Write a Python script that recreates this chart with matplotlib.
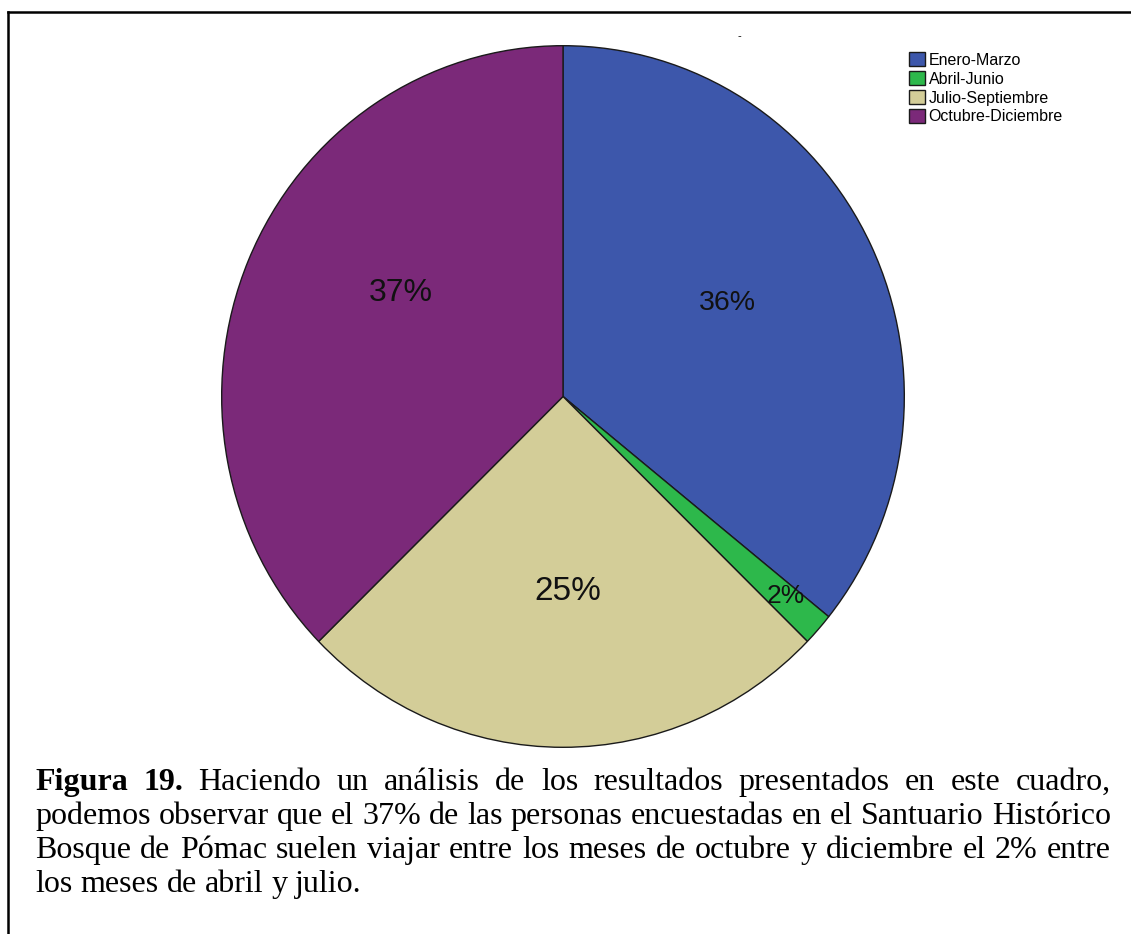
import numpy as np
import matplotlib
matplotlib.use("Agg")
import matplotlib.pyplot as plt
from matplotlib.lines import Line2D

# data (percent of respondents)
categories = ["Enero-Marzo", "Abril-Junio", "Julio-Septiembre", "Octubre-Diciembre"]
values = [35.8, 1.5, 25.4, 37.3]
colors = ["#3D57AB", "#2DB84B", "#D3CD98", "#7B2979"]
label_sizes = [20.5, 19, 24, 23]
# where each percent label sits: radius and shift from the slice mid-angle
label_radius = [0.55, 0.865, 0.555, 0.56]
label_shift = [3.5, 0.5, 1.5, -9.0]

caption = [
    "Haciendo un análisis de los resultados presentados en este cuadro,",
    "podemos observar que el 37% de las personas encuestadas en el Santuario Histórico",
    "Bosque de Pómac suelen viajar entre los meses de octubre y diciembre el 2% entre",
    "los meses de abril y julio.",
]

W, H = 1131, 934
fig = plt.figure(figsize=(W / 100, H / 100), dpi=100)

# pie axes (the original pie is slightly taller than wide)
ax = fig.add_axes([221 / W, 1 - 748 / H, 684 / W, 703 / H])
wedges, texts, autotexts = ax.pie(
    values, colors=colors, startangle=90, counterclock=False,
    autopct=lambda p: "%d%%" % round(p), pctdistance=0.55,
    wedgeprops=dict(edgecolor="#1a1a1a", linewidth=1.0),
    textprops=dict(family="Liberation Sans", color="#111111"))
ax.set_aspect("auto")
ax.set_xlim(-1.002, 1.002)
ax.set_ylim(-1.002, 1.002)
for w, t, fs, r, sh in zip(wedges, autotexts, label_sizes, label_radius, label_shift):
    t.set_fontsize(fs)
    mid = np.deg2rad((w.theta1 + w.theta2) / 2 + sh)
    t.set_position((r * np.cos(mid), r * np.sin(mid)))

# stray title mark from the original export
fig.text(739 / W, 1 - 36 / H, "-", fontsize=8, ha="center", va="center",
         family="Liberation Sans")

fig.legend(wedges, categories, loc="upper left",
           bbox_to_anchor=(903 / W, 1 - 46 / H), frameon=False,
           prop=dict(family="Liberation Sans", size=11.5),
           handlelength=0.95, handleheight=0.95, labelspacing=0.22,
           handletextpad=0.25, borderaxespad=0)

# frame lines (top and left)
fig.add_artist(Line2D([8 / W, 1], [1 - 12 / H, 1 - 12 / H], color="black",
                      lw=1.8, transform=fig.transFigure))
fig.add_artist(Line2D([8 / W, 8 / W], [0, 1 - 12 / H], color="black",
                      lw=1.8, transform=fig.transFigure))

# justified caption
fig.canvas.draw()
renderer = fig.canvas.get_renderer()
x0, x1 = 35, 1111
baselines = [790, 824, 858, 892]
fs = 23


def text_width(s, bold=False):
    t = fig.text(0, 0, s, fontsize=fs, family="Liberation Serif",
                 weight="bold" if bold else "normal")
    wd = t.get_window_extent(renderer).width
    t.remove()
    return wd


def put_words(words, y, justify):
    arts = []
    for word, bold in words:
        t = fig.text(0, 1 - y / H, word, fontsize=fs, family="Liberation Serif",
                     weight="bold" if bold else "normal", va="baseline", ha="left")
        arts.append(t)
    widths = [a.get_window_extent(renderer).width for a in arts]
    sw = text_width("a a") - text_width("aa")
    if justify and len(arts) > 1:
        gap = (x1 - x0 - sum(widths)) / (len(arts) - 1)
    else:
        gap = sw
    x = x0
    for a, wd in zip(arts, widths):
        a.set_x(x / W)
        x += wd + gap


for i, line in enumerate(caption):
    words = [(w, False) for w in line.split()]
    if i == 0:
        words = [("Figura", True), ("19.", True)] + words
    put_words(words, baselines[i], justify=(i < len(caption) - 1))

fig.savefig("out.png", dpi=100)
